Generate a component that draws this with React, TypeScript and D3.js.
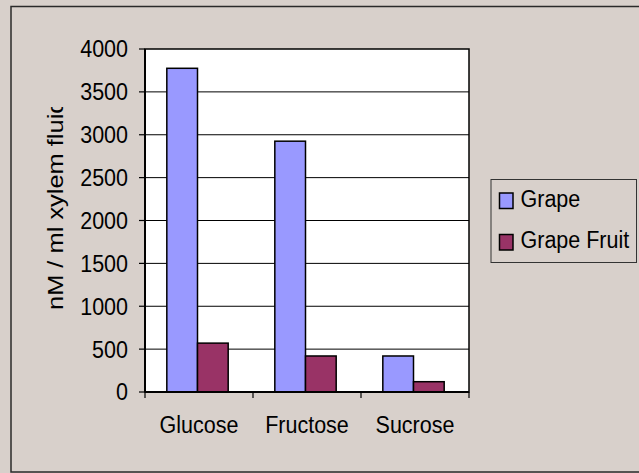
import React from 'react';
import * as d3 from 'd3';

const categories = ['Glucose', 'Fructose', 'Sucrose'];
const seriesNames = ['Grape', 'Grape Fruit'];
const grape = [3775, 2925, 420];
const grapeFruit = [570, 420, 120];
const colors = ['#9999FF', '#993366'];

const W = 639;
const H = 473;
const plot = { left: 145, top: 49, right: 469, bottom: 392 };
const FONT = 'Liberation Sans, Arial, sans-serif';
const FS = 21.5;
const SY = 1.13; // the picture is a bit stretched vertically

const App = () => {
    const y = d3.scaleLinear().domain([0, 4000]).range([plot.bottom, plot.top]);
    const x = d3.scaleBand().domain(categories).range([plot.left, plot.right]).padding(0);
    const inner = d3.scaleBand()
        .domain(seriesNames)
        .range([-1.5, x.bandwidth() - 1.5])
        .paddingInner(0)
        .paddingOuter(0.76);
    const values = [grape, grapeFruit];
    const yTicks = y.ticks(8);
    const xTicks = categories.map(c => x(c)).concat([plot.right]);

    return (
        <svg width={W} height={H} style={{ position: 'absolute', left: 0, top: 0 }}
             fontFamily={FONT}>
            <defs>
                <clipPath id="titleClip">
                    <rect x={0} y={107} width={120} height={300} />
                </clipPath>
            </defs>
            <rect x={0} y={0} width={W} height={H} fill="#D8D0CB" />
            <rect x={11} y={6.5} width={W + 10} height={465.5} fill="#D8D0CB"
                  stroke="#2a2a2a" strokeWidth={1.5} />

            {/* plot area */}
            <rect x={plot.left} y={plot.top} width={plot.right - plot.left}
                  height={plot.bottom - plot.top} fill="#fff" stroke="#000" strokeWidth={1.5} />
            {yTicks.filter(t => t > 0 && t < 4000).map(t => (
                <line key={'g' + t} x1={plot.left} x2={plot.right} y1={y(t)} y2={y(t)}
                      stroke="#000" strokeWidth={1} />
            ))}

            {/* bars */}
            {categories.map((c, i) => (
                <g key={c} transform={`translate(${x(c)},0)`}>
                    {seriesNames.map((s, j) => (
                        <rect key={s} x={inner(s)} y={y(values[j][i])}
                              width={inner.bandwidth()} height={plot.bottom - y(values[j][i])}
                              fill={colors[j]} stroke="#000" strokeWidth={1.5} />
                    ))}
                </g>
            ))}

            {/* axes */}
            <line x1={plot.left} x2={plot.left} y1={plot.top} y2={plot.bottom} stroke="#000" strokeWidth={2} />
            <line x1={plot.left} x2={plot.right} y1={plot.bottom} y2={plot.bottom} stroke="#000" strokeWidth={2} />
            {yTicks.map(t => (
                <g key={'y' + t}>
                    <line x1={plot.left - 6} x2={plot.left} y1={y(t)} y2={y(t)} stroke="#000" strokeWidth={1.2} />
                    <g transform={`translate(128,${y(t)}) scale(1,${SY})`}>
                        <text y={7.5} textAnchor="end" fontSize={FS} fill="#000">{t}</text>
                    </g>
                </g>
            ))}
            {xTicks.map((t, i) => (
                <line key={'x' + i} x1={t} x2={t} y1={plot.bottom} y2={plot.bottom + 6}
                      stroke="#000" strokeWidth={1.2} />
            ))}
            {categories.map(c => (
                <g key={'l' + c} transform={`translate(${x(c) + x.bandwidth() / 2},432.5) scale(1,${SY})`}>
                    <text textAnchor="middle" fontSize={FS} fill="#000">{c}</text>
                </g>
            ))}

            {/* axis title */}
            <g clipPath="url(#titleClip)">
                <g transform={`translate(63,310) rotate(-90) scale(${SY},1)`}>
                    <text fontSize={22.5} fill="#000">nM / ml xylem fluid</text>
                </g>
            </g>

            {/* legend */}
            <rect x={491} y={179.5} width={145.5} height={83} fill="#D8D0CB" stroke="#333" strokeWidth={1} />
            {seriesNames.map((s, j) => (
                <g key={'lg' + s}>
                    <rect x={499.5} y={193 + j * 41.5} width={13.5} height={15.5}
                          fill={colors[j]} stroke="#000" strokeWidth={1.5} />
                    <g transform={`translate(520.5,${206.5 + j * 41.5}) scale(1,${SY})`}>
                        <text fontSize={FS} fill="#000">{s}</text>
                    </g>
                </g>
            ))}
        </svg>
    );
};

export default App;
